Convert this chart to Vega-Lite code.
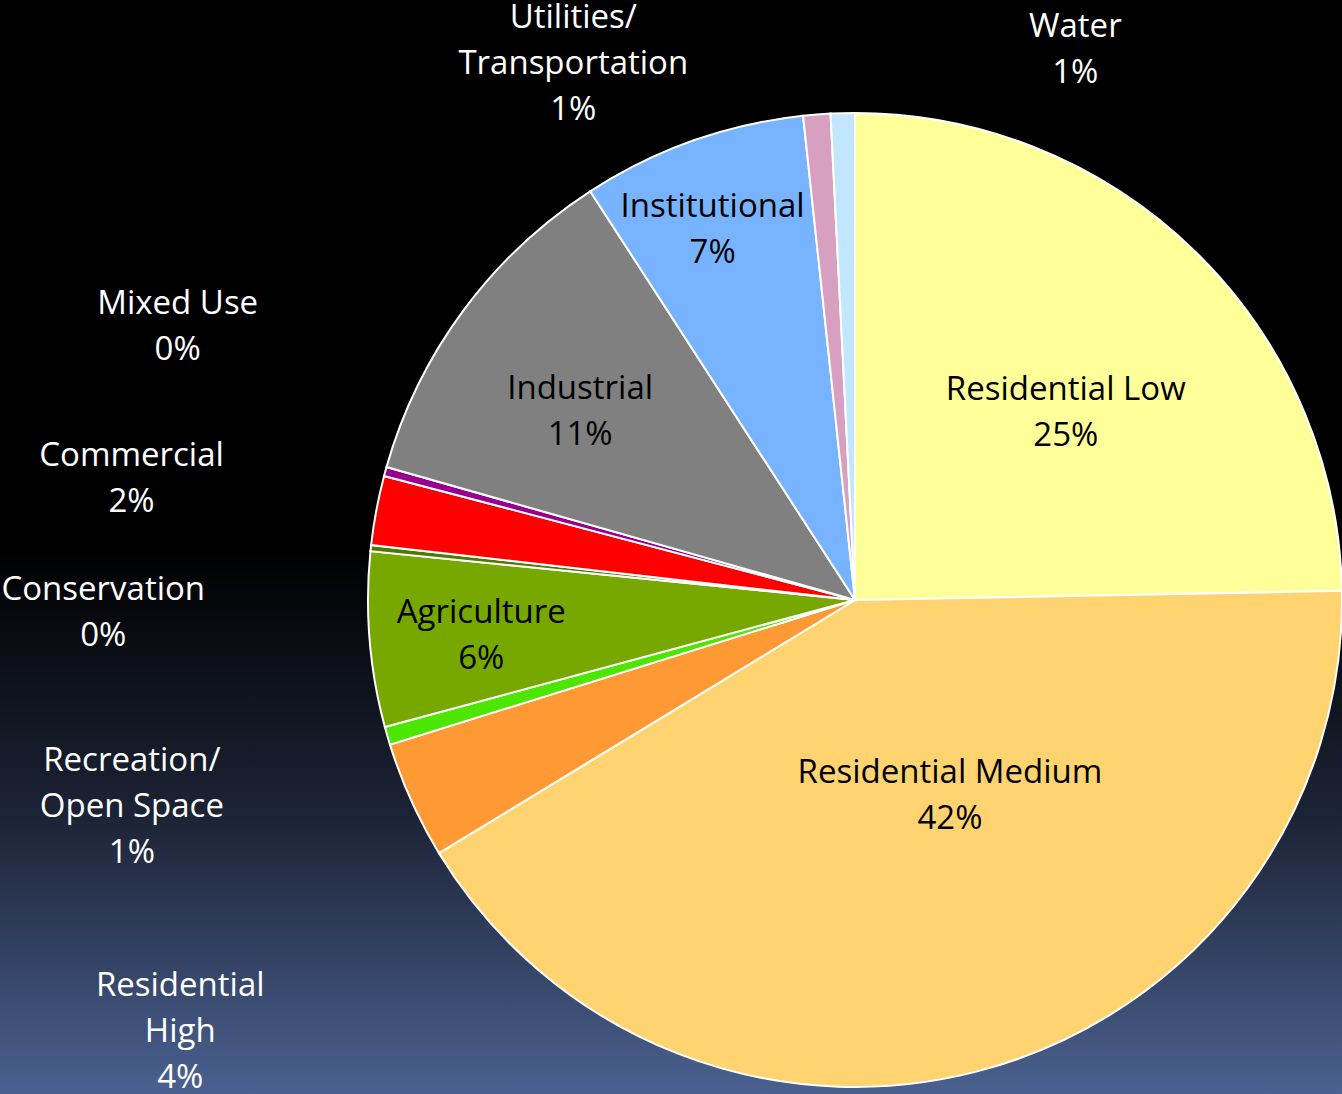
{
  "$schema": "https://vega.github.io/schema/vega-lite/v6.json",
  "width": 1342,
  "height": 1094,
  "padding": 0,
  "autosize": {"type": "none"},
  "background": "#000000",
  "view": {
    "stroke": null,
    "fill": {
      "gradient": "linear", "x1": 0, "y1": 0, "x2": 0, "y2": 1,
      "stops": [
        {"offset": 0, "color": "#000000"},
        {"offset": 0.5, "color": "#000000"},
        {"offset": 0.75, "color": "#1d2437"},
        {"offset": 1, "color": "#4a6190"}
      ]
    }
  },
  "config": {
    "text": {"font": "Open Sans", "fontSize": 33, "lineBreak": "\n", "lineHeight": 46, "align": "center", "baseline": "middle"}
  },
  "data": {
    "values": [
      {"idx": 1, "use": "Residential Low", "name": "Residential Low", "share": 24.7},
      {"idx": 2, "use": "Residential Medium", "name": "Residential Medium", "share": 41.6},
      {"idx": 3, "use": "Residential High", "name": "Residential\nHigh", "share": 3.9},
      {"idx": 4, "use": "Recreation/Open Space", "name": "Recreation/\nOpen Space", "share": 0.6},
      {"idx": 5, "use": "Agriculture", "name": "Agriculture", "share": 5.8},
      {"idx": 6, "use": "Conservation", "name": "Conservation", "share": 0.2},
      {"idx": 7, "use": "Commercial", "name": "Commercial", "share": 2.3},
      {"idx": 8, "use": "Mixed Use", "name": "Mixed Use", "share": 0.3},
      {"idx": 9, "use": "Industrial", "name": "Industrial", "share": 11.45},
      {"idx": 10, "use": "Institutional", "name": "Institutional", "share": 7.45},
      {"idx": 11, "use": "Utilities/Transportation", "name": "Utilities/\nTransportation", "share": 0.9},
      {"idx": 12, "use": "Water", "name": "Water", "share": 0.8}
    ]
  },
  "transform": [
    {"stack": "share", "groupby": [], "sort": [{"field": "idx", "order": "ascending"}], "as": ["t0", "t1"]},
    {"calculate": "(datum.t0 + datum.t1) / 2", "as": "tmid"},
    {"calculate": "datum.name + '\\n' + format(datum.share, '.0f') + '%'", "as": "label"}
  ],
  "layer": [
    {
      "mark": {"type": "arc", "x": 855, "y": 600, "radius": 487, "stroke": "#ffffff", "strokeWidth": 2},
      "encoding": {
        "theta": {"field": "t0", "type": "quantitative", "stack": null, "scale": {"domain": [0, 100]}},
        "theta2": {"field": "t1"},
        "color": {
          "field": "use", "type": "nominal", "legend": null,
          "scale": {
            "domain": ["Residential Low", "Residential Medium", "Residential High", "Recreation/Open Space", "Agriculture", "Conservation", "Commercial", "Mixed Use", "Industrial", "Institutional", "Utilities/Transportation", "Water"],
            "range": ["#FFFF99", "#FFD470", "#FF9933", "#4CE600", "#77A800", "#4F7A00", "#FF0000", "#9A0090", "#808080", "#77B3FF", "#D8A0C0", "#C2E6FF"]
          }
        }
      }
    },
    {"transform": [{"filter": "datum.use === 'Residential Low'"}], "mark": {"type": "text", "x": 855, "y": 600, "radius": 281, "dx": 14, "dy": -9, "color": "#000000"}, "encoding": {"theta": {"field": "tmid", "type": "quantitative", "stack": null, "scale": {"domain": [0, 100]}}, "text": {"field": "label"}}},
    {"transform": [{"filter": "datum.use === 'Residential Medium'"}], "mark": {"type": "text", "x": 855, "y": 600, "radius": 215, "dx": 35, "dy": -33, "color": "#000000"}, "encoding": {"theta": {"field": "tmid", "type": "quantitative", "stack": null, "scale": {"domain": [0, 100]}}, "text": {"field": "label"}}},
    {"transform": [{"filter": "datum.use === 'Agriculture'"}], "mark": {"type": "text", "x": 855, "y": 600, "radius": 375, "dx": 0, "dy": -18, "color": "#000000"}, "encoding": {"theta": {"field": "tmid", "type": "quantitative", "stack": null, "scale": {"domain": [0, 100]}}, "text": {"field": "label"}}},
    {"transform": [{"filter": "datum.use === 'Industrial'"}], "mark": {"type": "text", "x": 855, "y": 600, "radius": 333, "dx": -7, "dy": -13, "color": "#000000"}, "encoding": {"theta": {"field": "tmid", "type": "quantitative", "stack": null, "scale": {"domain": [0, 100]}}, "text": {"field": "label"}}},
    {"transform": [{"filter": "datum.use === 'Institutional'"}], "mark": {"type": "text", "x": 855, "y": 600, "radius": 396, "dx": -10, "dy": -20, "color": "#000000"}, "encoding": {"theta": {"field": "tmid", "type": "quantitative", "stack": null, "scale": {"domain": [0, 100]}}, "text": {"field": "label"}}},
    {"transform": [{"filter": "datum.use === 'Utilities/Transportation'"}], "mark": {"type": "text", "x": 855, "y": 600, "radius": 557, "dx": -238, "dy": -27, "color": "#ffffff"}, "encoding": {"theta": {"field": "tmid", "type": "quantitative", "stack": null, "scale": {"domain": [0, 100]}}, "text": {"field": "label"}}},
    {"transform": [{"filter": "datum.use === 'Water'"}], "mark": {"type": "text", "x": 855, "y": 600, "radius": 544, "dx": 234, "dy": -29, "color": "#ffffff"}, "encoding": {"theta": {"field": "tmid", "type": "quantitative", "stack": null, "scale": {"domain": [0, 100]}}, "text": {"field": "label"}}},
    {"transform": [{"filter": "datum.use === 'Mixed Use'"}], "mark": {"type": "text", "x": 855, "y": 600, "radius": 725, "dx": 22, "dy": -105, "color": "#ffffff"}, "encoding": {"theta": {"field": "tmid", "type": "quantitative", "stack": null, "scale": {"domain": [0, 100]}}, "text": {"field": "label"}}},
    {"transform": [{"filter": "datum.use === 'Commercial'"}], "mark": {"type": "text", "x": 855, "y": 600, "radius": 733, "dx": -3, "dy": -9, "color": "#ffffff"}, "encoding": {"theta": {"field": "tmid", "type": "quantitative", "stack": null, "scale": {"domain": [0, 100]}}, "text": {"field": "label"}}},
    {"transform": [{"filter": "datum.use === 'Conservation'"}], "mark": {"type": "text", "x": 855, "y": 600, "radius": 746, "dx": -10, "dy": 70, "color": "#ffffff"}, "encoding": {"theta": {"field": "tmid", "type": "quantitative", "stack": null, "scale": {"domain": [0, 100]}}, "text": {"field": "label"}}},
    {"transform": [{"filter": "datum.use === 'Recreation/Open Space'"}], "mark": {"type": "text", "x": 855, "y": 600, "radius": 752, "dx": -1, "dy": -49, "color": "#ffffff"}, "encoding": {"theta": {"field": "tmid", "type": "quantitative", "stack": null, "scale": {"domain": [0, 100]}}, "text": {"field": "label"}}},
    {"transform": [{"filter": "datum.use === 'Residential High'"}], "mark": {"type": "text", "x": 855, "y": 600, "radius": 793, "dx": 48, "dy": 60, "color": "#ffffff"}, "encoding": {"theta": {"field": "tmid", "type": "quantitative", "stack": null, "scale": {"domain": [0, 100]}}, "text": {"field": "label"}}}
  ]
}
